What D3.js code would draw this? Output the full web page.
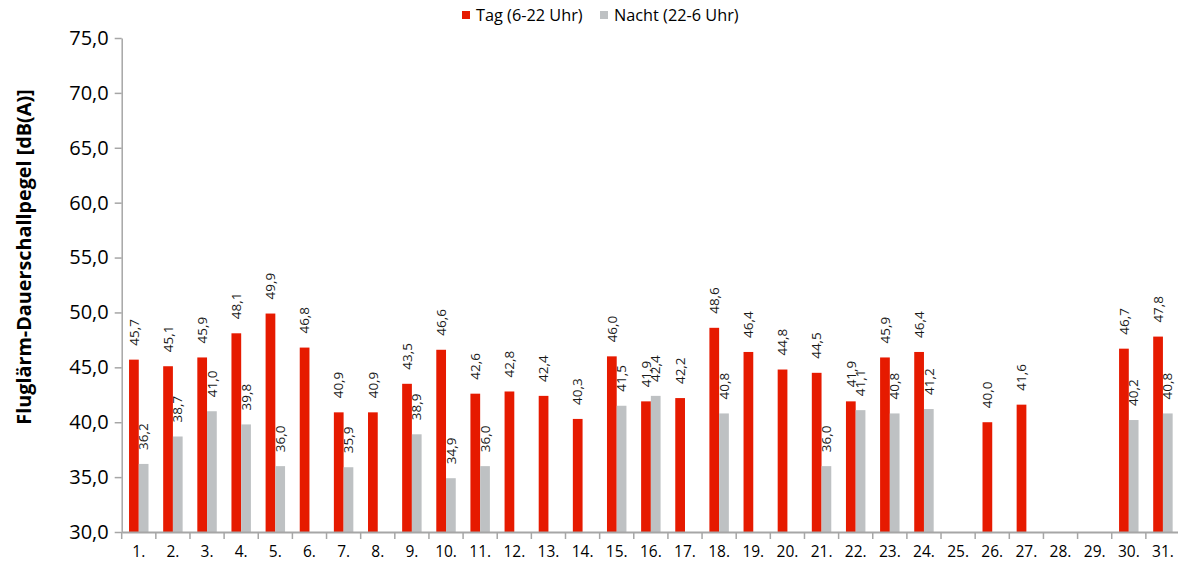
<!DOCTYPE html>
<html>
<head>
<meta charset="utf-8">
<script src="https://cdn.jsdelivr.net/npm/d3@7"></script>
<style>
  html, body { margin: 0; padding: 0; background: #fff; }
  svg { display: block; font-family: "Open Sans", Calibri, sans-serif; }
</style>
</head>
<body>
<svg id="chart" width="1178" height="572"></svg>
<script>
// Monthly aircraft noise levels, day vs. night
const days = d3.range(1, 32).map(d => d + ".");
const tagValues = [45.7, 45.1, 45.9, 48.1, 49.9, 46.8, 40.9, 40.9, 43.5, 46.6,
  42.6, 42.8, 42.4, 40.3, 46.0, 41.9, 42.2, 48.6, 46.4, 44.8,
  44.5, 41.9, 45.9, 46.4, null, 40.0, 41.6, null, null, 46.7, 47.8];
const nachtValues = [36.2, 38.7, 41.0, 39.8, 36.0, null, 35.9, null, 38.9, 34.9,
  36.0, null, null, null, 41.5, 42.4, null, 40.8, null, null,
  36.0, 41.1, 40.8, 41.2, null, null, null, null, null, 40.2, 40.8];
const seriesNames = ["Tag (6-22 Uhr)", "Nacht (22-6 Uhr)"];
const seriesColors = ["#e61a00", "#bec1c3"];
const yTicks = [30, 35, 40, 45, 50, 55, 60, 65, 70, 75];
const yTitle = "Fluglärm-Dauerschallpegel [dB(A)]";

const svg = d3.select("#chart");
const margin = { left: 121.7, right: -2, top: 38, bottom: 40 };
const W = 1178, H = 572;

const x = d3.scaleBand().domain(days).range([margin.left, W - margin.right]).padding(0);
const inner = d3.scaleBand().domain([0, 1])
  .range([x.bandwidth() * 0.215, x.bandwidth() * 0.785]).padding(0);
const y = d3.scaleLinear().domain([30, 75]).range([H - margin.bottom, margin.top]);

const fmt = v => d3.format(".1f")(v).replace(".", ",");
const axisColor = "#a6a6a6";

// Y axis
const yAxis = svg.append("g")
  .attr("transform", `translate(${margin.left},0)`)
  .call(d3.axisLeft(y).tickValues(yTicks).tickFormat(fmt).tickSize(7).tickSizeOuter(0));
yAxis.select(".domain").attr("stroke", axisColor).attr("stroke-width", 1.5);
yAxis.selectAll(".tick line").attr("stroke", axisColor).attr("stroke-width", 1.5);
yAxis.selectAll(".tick text")
  .attr("x", -13).attr("fill", "#000")
  .style("font-size", "20px").style("font-family", "'Open Sans', sans-serif");

// Bars
const series = [tagValues, nachtValues];
series.forEach((vals, si) => {
  const data = days.map((d, i) => ({ day: d, v: vals[i] })).filter(o => o.v != null);
  const g = svg.append("g");
  g.selectAll("rect").data(data).join("rect")
    .attr("x", o => x(o.day) + inner(si))
    .attr("width", inner.bandwidth())
    .attr("y", o => y(o.v))
    .attr("height", o => y(30) - y(o.v))
    .attr("fill", seriesColors[si]);
  g.selectAll("text").data(data).join("text")
    .attr("transform", o => `translate(${x(o.day) + inner(si) + inner.bandwidth() / 2 + 4.7},${y(o.v) - 14}) rotate(-90)`)
    .attr("text-anchor", "start")
    .style("font-size", "13.5px")
    .attr("fill", "#1a1a1a")
    .text(o => fmt(o.v));
});

// X axis
const xAxis = svg.append("g")
  .attr("transform", `translate(0,${y(30)})`)
  .call(d3.axisBottom(x).tickSize(0).tickSizeOuter(0));
xAxis.select(".domain").attr("stroke", axisColor).attr("stroke-width", 2);
xAxis.selectAll(".tick text")
  .attr("y", 14).attr("fill", "#000")
  .style("font-size", "15.5px").style("font-family", "'Open Sans', sans-serif");
// boundary ticks between days
svg.append("g").selectAll("line").data(days).join("line")
  .attr("x1", d => x(d)).attr("x2", d => x(d))
  .attr("y1", y(30)).attr("y2", y(30) + 7)
  .attr("stroke", axisColor).attr("stroke-width", 1.5);

// Y title
svg.append("text")
  .attr("transform", `translate(31,257) rotate(-90)`)
  .attr("text-anchor", "middle")
  .style("font-size", "19.8px").style("font-weight", "bold")
  .attr("fill", "#000")
  .text(yTitle);

// Legend
const legend = svg.append("g");
const legendX = [462, 600];
seriesNames.forEach((name, i) => {
  legend.append("rect").attr("x", legendX[i]).attr("y", 11).attr("width", 8).attr("height", 8)
    .attr("fill", seriesColors[i]);
  legend.append("text").attr("x", legendX[i] + 14).attr("y", 20.5)
    .style("font-size", "16.3px").attr("fill", "#000").text(name);
});
</script>
</body>
</html>
